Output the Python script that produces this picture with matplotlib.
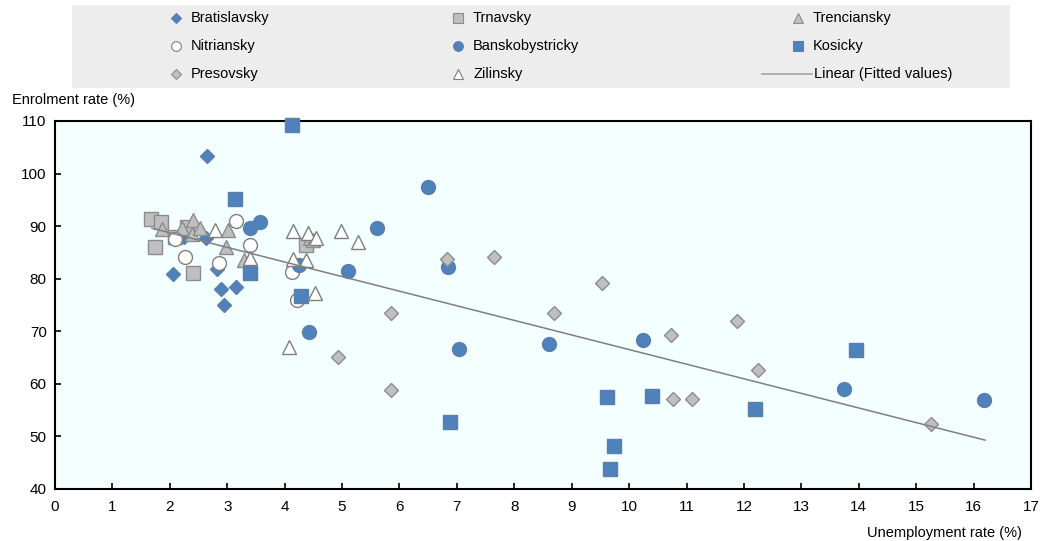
import matplotlib
matplotlib.use("Agg")
import matplotlib.pyplot as plt
from matplotlib.lines import Line2D
from matplotlib.patches import Rectangle

plt.rcParams['font.family'] = ['Liberation Sans Narrow', 'Liberation Sans', 'DejaVu Sans']

# District-level observations by region: unemployment rate (%) vs enrolment rate (%)
bratislavsky_x = [2.65, 2.06, 2.63, 2.83, 2.89, 3.15, 2.94, 2.24]
bratislavsky_y = [103.3, 80.9, 87.7, 81.8, 78.0, 78.5, 75.0, 88.0]

trnavsky_x = [1.68, 1.84, 1.75, 2.41, 2.09, 4.37, 2.30]
trnavsky_y = [91.3, 90.7, 86.1, 81.1, 87.9, 86.4, 89.9]

trenciansky_x = [1.87, 2.21, 2.40, 2.39, 2.53, 2.97, 3.30, 3.01, 4.44, 4.50]
trenciansky_y = [89.4, 89.6, 91.1, 88.6, 89.7, 86.0, 83.5, 89.2, 87.8, 87.4]

nitriansky_x = [2.09, 2.26, 2.85, 3.16, 3.40, 4.12, 4.21]
nitriansky_y = [87.5, 84.2, 83.0, 90.9, 86.4, 81.2, 75.9]

banskobystricky_x = [3.39, 3.57, 4.25, 5.10, 5.60, 6.50, 6.84, 4.43, 7.03, 8.60, 10.25, 13.75, 16.19]
banskobystricky_y = [89.7, 90.8, 82.7, 81.4, 89.7, 97.5, 82.2, 69.8, 66.6, 67.6, 68.3, 59.1, 56.9]

kosicky_x = [4.12, 3.14, 3.39, 4.28, 6.88, 9.62, 9.74, 9.67, 10.40, 12.19, 13.96]
kosicky_y = [109.3, 95.1, 81.0, 76.8, 52.8, 57.5, 48.2, 43.8, 57.7, 55.3, 66.4]

presovsky_x = [5.85, 4.93, 5.85, 6.82, 7.64, 9.52, 8.70, 11.88, 10.73, 12.24, 10.76, 11.10, 15.25]
presovsky_y = [73.5, 65.2, 58.8, 83.7, 84.2, 79.2, 73.4, 72.0, 69.3, 62.6, 57.2, 57.2, 52.3]

zilinsky_x = [2.79, 3.40, 4.15, 4.40, 4.99, 5.27, 4.15, 4.38, 4.53, 4.08, 4.55]
zilinsky_y = [89.2, 84.0, 89.0, 88.7, 89.0, 87.0, 83.7, 83.5, 77.2, 67.1, 87.7]

# Linear fit endpoints
fitted_x = [1.69, 16.2]
fitted_y = [89.6, 49.3]

x_ticks = list(range(0, 18))
y_ticks = list(range(40, 111, 10))

BLUE = '#4F81BD'
BLUE_EDGE = '#5A7FA8'
GREY = '#BFBFBF'
GREY_EDGE = '#8C8C8C'
OPEN_EDGE = '#7F7F7F'
W, H = 1040, 541

fig = plt.figure(figsize=(W / 100, H / 100), dpi=100)
ax = fig.add_axes([55 / W, 52 / H, 976 / W, 368 / H])
ax.set_facecolor('#F4FFFF')

styles = {
    'Bratislavsky': (bratislavsky_x, bratislavsky_y, 'D', 7.0, BLUE, BLUE_EDGE),
    'Trnavsky': (trnavsky_x, trnavsky_y, 's', 9.5, GREY, GREY_EDGE),
    'Trenciansky': (trenciansky_x, trenciansky_y, '^', 10.5, GREY, GREY_EDGE),
    'Nitriansky': (nitriansky_x, nitriansky_y, 'o', 10.0, 'white', OPEN_EDGE),
    'Banskobystricky': (banskobystricky_x, banskobystricky_y, 'o', 10.0, BLUE, BLUE_EDGE),
    'Kosicky': (kosicky_x, kosicky_y, 's', 9.5, BLUE, BLUE_EDGE),
    'Presovsky': (presovsky_x, presovsky_y, 'D', 7.0, GREY, GREY_EDGE),
    'Zilinsky': (zilinsky_x, zilinsky_y, '^', 10.5, 'white', OPEN_EDGE),
}

for name, (xs, ys, mk, ms, fc, ec) in styles.items():
    ax.plot(xs, ys, linestyle='none', marker=mk, markersize=ms,
            markerfacecolor=fc, markeredgecolor=ec, markeredgewidth=1.0,
            clip_on=False, zorder=3)

ax.plot(fitted_x, fitted_y, color='#7F7F7F', linewidth=1.1, zorder=4)

ax.set_xlim(0, 17)
ax.set_ylim(40, 110)
ax.set_xticks(x_ticks)
ax.set_yticks(y_ticks)
ax.tick_params(direction='in', length=4, width=1.2, labelsize=11, colors='black')
ax.tick_params(axis='x', pad=8)
ax.tick_params(axis='y', pad=6)
for sp in ax.spines.values():
    sp.set_linewidth(1.5)
    sp.set_color('black')

fig.text(12 / W, 1 - 100 / H, 'Enrolment rate (%)', fontsize=10.5, va='center', ha='left')
fig.text(1022 / W, 1 - 533 / H, 'Unemployment rate (%)', fontsize=10.5, va='center', ha='right')

# Legend panel, laid out as a 3x3 grid in pixel positions
fig.add_artist(Rectangle((72 / W, 1 - 88 / H), 938 / W, 83 / H, transform=fig.transFigure,
                         facecolor='#EDEDED', edgecolor='none', zorder=0))
rows = [['Bratislavsky', 'Trnavsky', 'Trenciansky'],
        ['Nitriansky', 'Banskobystricky', 'Kosicky'],
        ['Presovsky', 'Zilinsky', 'Linear (Fitted values)']]
col_marker_x = [176, 458, 798]
row_y = [18, 46, 74]
for r, row in enumerate(rows):
    for c, name in enumerate(row):
        yf = 1 - row_y[r] / H
        if name in styles:
            _, _, mk, ms, fc, ec = styles[name]
            mx = col_marker_x[c]
            fig.add_artist(Line2D([mx / W], [yf], linestyle='none', marker=mk,
                                  markersize=ms * 0.7, markerfacecolor=fc,
                                  markeredgecolor=ec, markeredgewidth=0.8,
                                  transform=fig.transFigure))
            tx = mx + 15
        else:
            fig.add_artist(Line2D([762 / W, 812 / W], [yf, yf], color='#A6A6A6',
                                  linewidth=1.2, transform=fig.transFigure))
            tx = 814
        fig.text(tx / W, yf, name, fontsize=10.5, va='center', ha='left')

fig.savefig('out.png', dpi=100)
